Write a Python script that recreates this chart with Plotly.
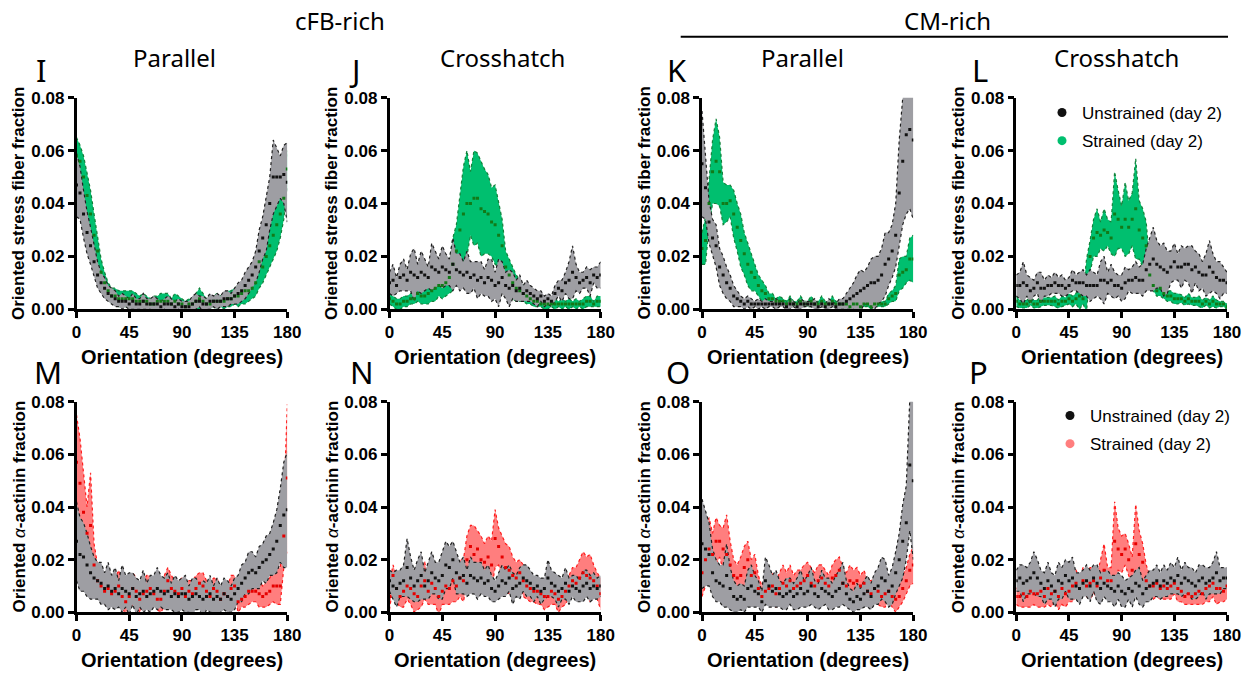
import numpy as np
import plotly.graph_objects as go

# Orientation bins (degrees)
ANGLES = list(range(0, 181, 3))
MILLI = 1000.0  # values below are in thousandths of the fraction

# ---------- I : cFB-rich, Parallel, stress fibers ----------
I_unstr_mean = [47, 44, 36, 29, 24, 18, 13, 10, 8, 6,
                5, 4, 3, 3, 3, 2, 3, 2, 2, 3,
                2, 2, 2, 2, 1, 2, 2, 2, 1, 2,
                1, 1, 1, 2, 3, 3, 2, 2, 3, 3,
                3, 3, 4, 4, 4, 5, 6, 7, 9, 11,
                13, 16, 22, 27, 32, 40, 50, 50, 50, 51,
                48]
I_unstr_sd = [12, 10, 9, 8, 7, 6, 5, 4, 4, 3,
              3, 3, 2, 3, 2, 2, 3, 2, 2, 3,
              2, 2, 3, 2, 2, 2, 3, 2, 2, 2,
              2, 2, 2, 3, 3, 2, 3, 2, 3, 2,
              3, 2, 3, 3, 2, 3, 4, 4, 5, 5,
              5, 6, 8, 8, 10, 10, 14, 11, 8, 11,
              15]
I_str_mean = [58, 56, 50, 43, 36, 28, 22, 14, 10, 7,
              5, 5, 4, 4, 4, 4, 4, 3, 3, 3,
              3, 2, 2, 3, 3, 3, 3, 2, 3, 2,
              2, 1, 2, 2, 3, 4, 3, 2, 2, 3,
              3, 3, 3, 4, 4, 5, 5, 6, 7, 7,
              8, 10, 18, 16, 20, 24, 28, 32, 36, 42,
              53]
I_str_sd = [7, 6, 8, 8, 9, 8, 6, 5, 4, 3,
            3, 3, 3, 3, 3, 3, 3, 3, 2, 3,
            2, 2, 3, 2, 3, 3, 3, 2, 3, 3,
            2, 2, 2, 2, 3, 4, 3, 2, 2, 2,
            3, 2, 3, 3, 3, 3, 4, 4, 5, 4,
            4, 5, 10, 6, 7, 8, 9, 10, 9, 8,
            7]

# ---------- J : cFB-rich, Crosshatch, stress fibers ----------
J_unstr_mean = [10, 11, 9, 12, 13, 11, 14, 13, 12, 14,
                13, 12, 16, 15, 14, 16, 15, 14, 17, 15,
                14, 13, 14, 12, 13, 11, 12, 10, 12, 11,
                9, 10, 12, 9, 8, 9, 7, 8, 6, 7,
                6, 5, 4, 5, 3, 4, 3, 6, 8, 7,
                10, 11, 14, 12, 10, 11, 12, 10, 13, 12,
                13]
J_unstr_sd = [4, 6, 3, 5, 6, 4, 7, 10, 5, 8,
              6, 4, 9, 7, 5, 8, 6, 5, 10, 6,
              7, 5, 8, 6, 5, 7, 6, 5, 7, 8,
              5, 9, 6, 5, 7, 5, 4, 5, 3, 4,
              3, 3, 3, 2, 2, 2, 2, 3, 3, 4,
              4, 7, 10, 5, 4, 3, 4, 5, 3, 4,
              5]
J_str_mean = [4, 3, 2, 2, 3, 3, 4, 4, 6, 5,
              5, 6, 7, 8, 9, 9, 10, 12, 17, 22,
              30, 36, 40, 40, 42, 42, 38, 37, 36, 33,
              32, 28, 24, 16, 13, 10, 8, 7, 6, 5,
              4, 3, 3, 2, 2, 2, 2, 2, 2, 2,
              2, 2, 2, 2, 2, 2, 3, 3, 2, 3,
              3]
J_str_sd = [2, 2, 2, 2, 2, 2, 2, 2, 3, 3,
            3, 4, 4, 5, 4, 5, 5, 6, 10, 10,
            12, 18, 20, 12, 18, 17, 18, 16, 15, 13,
            15, 12, 10, 6, 6, 6, 5, 4, 3, 3,
            2, 2, 2, 1, 2, 2, 1, 2, 1, 2,
            1, 2, 1, 2, 1, 2, 2, 2, 1, 2,
            2]

# ---------- K : CM-rich, Parallel, stress fibers ----------
K_unstr_mean = [55, 46, 33, 27, 24, 16, 13, 10, 8, 5,
                4, 3, 2, 3, 2, 2, 2, 2, 2, 2,
                2, 2, 2, 2, 1, 2, 2, 1, 2, 2,
                2, 2, 2, 1, 2, 1, 2, 2, 1, 2,
                2, 3, 4, 5, 6, 7, 8, 9, 10, 10,
                11, 13, 17, 19, 22, 28, 44, 56, 66, 68,
                64]
K_unstr_sd = [20, 12, 8, 7, 8, 7, 7, 6, 5, 4,
              3, 2, 2, 2, 2, 1, 2, 1, 2, 1,
              1, 2, 1, 1, 1, 2, 1, 1, 2, 1,
              1, 1, 2, 1, 1, 1, 2, 1, 1, 2,
              2, 3, 4, 5, 7, 8, 6, 7, 9, 10,
              9, 10, 12, 10, 10, 12, 20, 24, 30, 30,
              30]
K_str_mean = [23, 26, 40, 52, 56, 52, 40, 40, 41, 36,
              31, 26, 21, 17, 14, 12, 9, 7, 6, 4,
              4, 3, 3, 3, 2, 3, 2, 2, 3, 2,
              2, 3, 2, 2, 3, 2, 2, 3, 2, 2,
              2, 2, 1, 2, 2, 1, 2, 2, 1, 2,
              2, 2, 2, 4, 5, 6, 13, 14, 15, 19,
              19]
K_str_sd = [6, 9, 9, 12, 16, 13, 8, 7, 6, 9,
            9, 10, 8, 8, 7, 5, 4, 4, 3, 2,
            2, 1, 2, 1, 1, 2, 1, 1, 2, 1,
            1, 2, 1, 1, 2, 1, 1, 2, 1, 1,
            1, 1, 1, 1, 1, 1, 1, 1, 1, 1,
            1, 1, 1, 2, 2, 3, 6, 6, 5, 8,
            9]

# ---------- L : CM-rich, Crosshatch, stress fibers ----------
L_unstr_mean = [9, 9, 10, 9, 7, 8, 10, 8, 8, 9,
                9, 10, 9, 9, 8, 9, 11, 10, 10, 10,
                9, 9, 9, 9, 11, 11, 10, 11, 9, 9,
                8, 10, 11, 11, 12, 11, 11, 15, 17, 19,
                17, 16, 15, 14, 16, 18, 16, 16, 17, 17,
                15, 16, 14, 13, 13, 16, 14, 12, 11, 11,
                10]
L_unstr_sd = [4, 5, 8, 4, 5, 3, 4, 6, 3, 4,
              3, 4, 3, 4, 3, 3, 4, 3, 4, 5,
              4, 6, 5, 4, 7, 9, 4, 6, 5, 4,
              5, 6, 4, 5, 6, 5, 6, 8, 10, 12,
              9, 8, 10, 8, 6, 7, 5, 8, 6, 7,
              9, 6, 7, 5, 8, 10, 7, 6, 7, 5,
              4]
L_str_mean = [3, 2, 2, 2, 3, 2, 2, 3, 3, 3,
              3, 3, 2, 3, 3, 4, 3, 4, 5, 4,
              9, 20, 27, 29, 28, 30, 29, 27, 36, 34,
              31, 34, 31, 34, 38, 30, 27, 24, 13, 9,
              7, 8, 6, 5, 5, 4, 4, 4, 3, 4,
              3, 3, 3, 2, 3, 2, 3, 2, 2, 2,
              1]
L_str_sd = [2, 1.5, 1.5, 1.5, 1.5, 1.5, 1.5, 2, 1.5, 1.5,
            1.5, 2, 1.5, 2, 1.5, 2, 2, 2, 5, 2,
            10, 6, 7, 9, 5, 8, 5, 6, 16, 11,
            8, 14, 10, 10, 19, 11, 11, 9, 4, 2,
            2, 3, 2, 2, 2, 2, 2, 1.5, 1.5, 2,
            1.5, 1.5, 2, 1.5, 1.5, 1.5, 2, 1.5, 1, 1,
            1]

# ---------- M : cFB-rich, Parallel, alpha-actinin ----------
M_unstr_mean = [27, 22, 21, 18, 15, 13, 12, 11, 9, 10,
                8, 9, 7, 9, 8, 7, 9, 6, 7, 8,
                6, 7, 8, 9, 8, 7, 8, 6, 7, 6,
                7, 7, 5, 6, 7, 6, 5, 6, 7, 5,
                6, 5, 7, 6, 5, 7, 9, 11, 13, 15,
                16, 15, 17, 19, 20, 22, 24, 27, 33, 37,
                39]
M_unstr_sd = [15, 14, 13, 12, 10, 8, 7, 8, 6, 9,
              6, 8, 5, 9, 6, 8, 6, 7, 5, 8,
              5, 7, 6, 8, 6, 6, 7, 5, 7, 6,
              6, 7, 5, 7, 6, 5, 7, 5, 7, 5,
              7, 5, 6, 6, 5, 6, 5, 7, 6, 8,
              7, 6, 8, 7, 9, 8, 10, 12, 14, 20,
              22]
M_str_mean = [57, 49, 38, 30, 33, 18, 12, 10, 8, 9,
              7, 8, 10, 6, 4, 6, 9, 8, 5, 7,
              8, 9, 7, 5, 5, 8, 12, 9, 8, 7,
              9, 6, 8, 7, 9, 11, 10, 8, 6, 9,
              8, 5, 7, 6, 9, 10, 4, 5, 6, 8,
              8, 8, 7, 6, 7, 8, 10, 10, 10, 29,
              51]
M_str_sd = [18, 17, 15, 10, 20, 8, 6, 5, 5, 5,
            4, 5, 6, 5, 4, 5, 6, 5, 5, 5,
            6, 5, 4, 4, 5, 6, 5, 5, 4, 5,
            4, 5, 4, 5, 5, 4, 5, 4, 5, 4,
            5, 4, 5, 4, 5, 4, 4, 3, 4, 5,
            4, 4, 5, 4, 5, 5, 6, 7, 7, 12,
            28]

# ---------- N : cFB-rich, Crosshatch, alpha-actinin ----------
N_unstr_mean = [12, 10, 9, 11, 12, 17, 13, 10, 12, 14,
                10, 12, 15, 13, 12, 14, 18, 17, 20, 15,
                13, 14, 11, 14, 13, 12, 13, 11, 12, 9,
                8, 10, 12, 11, 13, 9, 10, 11, 13, 12,
                11, 9, 10, 8, 9, 13, 11, 10, 8, 9,
                11, 8, 10, 9, 8, 10, 11, 9, 10, 9,
                10]
N_unstr_sd = [4, 5, 7, 5, 6, 11, 8, 6, 8, 9,
              5, 7, 8, 6, 7, 9, 9, 8, 7, 8,
              6, 7, 5, 7, 6, 7, 6, 5, 6, 5,
              4, 5, 6, 5, 5, 6, 4, 6, 5, 6,
              5, 5, 4, 5, 4, 7, 5, 5, 6, 4,
              6, 5, 4, 5, 4, 6, 5, 5, 5, 4,
              4]
N_str_mean = [6, 14, 9, 6, 8, 10, 9, 7, 6, 10,
              12, 8, 11, 9, 6, 8, 10, 9, 12, 10,
              13, 12, 20, 25, 22, 24, 20, 19, 21, 18,
              28, 25, 21, 17, 16, 14, 13, 15, 12, 10,
              9, 8, 8, 7, 6, 6, 8, 7, 5, 6,
              8, 10, 12, 11, 13, 15, 14, 13, 12, 10,
              7]
N_str_sd = [5, 4, 5, 4, 6, 5, 6, 7, 5, 8,
            7, 5, 8, 6, 7, 5, 7, 6, 8, 6,
            7, 8, 9, 8, 11, 7, 9, 7, 8, 9,
            11, 7, 8, 9, 9, 7, 6, 5, 6, 5,
            5, 4, 5, 4, 5, 4, 5, 4, 5, 4,
            5, 4, 5, 6, 7, 8, 7, 9, 6, 5,
            6]

# ---------- O : CM-rich, Parallel, alpha-actinin ----------
O_unstr_mean = [26, 24, 22, 15, 12, 11, 10, 14, 9, 6,
                5, 6, 5, 9, 10, 8, 7, 4, 12, 10,
                8, 9, 7, 6, 7, 8, 6, 7, 9, 7,
                8, 10, 7, 6, 9, 8, 7, 6, 8, 9,
                11, 7, 5, 4, 6, 5, 7, 8, 6, 9,
                10, 13, 12, 8, 10, 15, 20, 27, 34, 56,
                50]
O_unstr_sd = [17, 14, 12, 9, 8, 7, 8, 12, 8, 6,
              5, 5, 5, 7, 8, 6, 5, 4, 9, 8,
              6, 7, 5, 5, 6, 5, 5, 6, 7, 5,
              6, 7, 5, 5, 7, 5, 6, 5, 6, 7,
              8, 5, 4, 4, 5, 4, 5, 6, 5, 6,
              7, 8, 8, 6, 7, 8, 10, 14, 14, 25,
              30]
O_str_mean = [15, 20, 24, 22, 27, 27, 24, 22, 18, 14,
              13, 14, 17, 20, 14, 15, 9, 6, 8, 9,
              10, 7, 9, 11, 10, 12, 9, 10, 11, 12,
              14, 11, 10, 12, 13, 11, 10, 13, 14, 16,
              11, 10, 12, 11, 12, 10, 11, 8, 7, 9,
              8, 6, 7, 8, 6, 5, 6, 9, 12, 16,
              18]
O_str_sd = [9, 10, 12, 8, 9, 6, 8, 15, 9, 6,
            5, 7, 8, 7, 6, 7, 5, 4, 5, 6,
            5, 5, 6, 7, 5, 6, 5, 6, 5, 6,
            5, 6, 5, 6, 5, 5, 4, 5, 6, 5,
            6, 5, 6, 5, 5, 4, 5, 4, 5, 4,
            5, 4, 5, 4, 4, 5, 4, 5, 5, 6,
            7]

# ---------- P : CM-rich, Crosshatch, alpha-actinin ----------
P_unstr_mean = [12, 13, 11, 12, 13, 15, 13, 11, 9, 12,
                10, 8, 12, 11, 14, 12, 13, 10, 9, 11,
                12, 10, 13, 11, 9, 11, 10, 9, 8, 10,
                8, 7, 9, 8, 11, 10, 7, 9, 10, 11,
                12, 10, 12, 11, 13, 12, 14, 11, 13, 12,
                11, 10, 12, 13, 11, 12, 13, 15, 12, 13,
                13]
P_unstr_sd = [4, 5, 7, 5, 6, 8, 7, 5, 6, 7,
              5, 6, 7, 6, 6, 7, 8, 5, 6, 5,
              6, 6, 5, 7, 6, 5, 6, 5, 6, 5,
              6, 5, 4, 6, 5, 7, 5, 5, 6, 5,
              6, 5, 6, 5, 6, 5, 7, 5, 6, 5,
              6, 5, 6, 5, 6, 5, 6, 8, 5, 4,
              4]
P_str_mean = [6, 6, 7, 6, 8, 7, 7, 8, 6, 9,
              7, 8, 6, 9, 7, 8, 10, 11, 9, 12,
              10, 11, 12, 10, 13, 16, 12, 12, 27, 24,
              22, 24, 20, 16, 26, 22, 19, 12, 10, 10,
              11, 9, 10, 9, 10, 11, 9, 8, 6, 7,
              6, 7, 8, 7, 9, 10, 11, 9, 9, 8,
              10]
P_str_sd = [3, 4, 5, 4, 6, 4, 5, 6, 4, 6,
            5, 4, 5, 6, 5, 4, 6, 5, 4, 5,
            4, 6, 5, 4, 7, 10, 5, 5, 15, 8,
            7, 6, 6, 5, 15, 9, 7, 6, 4, 5,
            5, 4, 5, 4, 5, 4, 5, 4, 3, 4,
            3, 4, 5, 4, 5, 6, 5, 6, 5, 4,
            5]

X_TICKS = [0, 45, 90, 135, 180]
Y_TICKS = [0.0, 0.02, 0.04, 0.06, 0.08]
COL_TITLES = ["Parallel", "Crosshatch", "Parallel", "Crosshatch"]
GROUP_TITLES = ["cFB-rich", "CM-rich"]
LETTERS = ["I", "J", "K", "L", "M", "N", "O", "P"]
Y_TITLES = ["Oriented stress fiber fraction",
            "Oriented <span style='font-weight:normal'><i>\u03b1</i></span>-actinin fraction"]
X_TITLE = "Orientation (degrees)"
SERIES_NAMES = ["Unstrained (day 2)", "Strained (day 2)"]

DATA = [
    (I_unstr_mean, I_unstr_sd, I_str_mean, I_str_sd),
    (J_unstr_mean, J_unstr_sd, J_str_mean, J_str_sd),
    (K_unstr_mean, K_unstr_sd, K_str_mean, K_str_sd),
    (L_unstr_mean, L_unstr_sd, L_str_mean, L_str_sd),
    (M_unstr_mean, M_unstr_sd, M_str_mean, M_str_sd),
    (N_unstr_mean, N_unstr_sd, N_str_mean, N_str_sd),
    (O_unstr_mean, O_unstr_sd, O_str_mean, O_str_sd),
    (P_unstr_mean, P_unstr_sd, P_str_mean, P_str_sd),
]
for d in DATA:
    for arr in d:
        assert len(arr) == len(ANGLES), len(arr)

# ---------- layout geometry (pixels) ----------
W, H = 1250, 676
COL_PX = [(76.5, 287.3), (389.5, 600.7), (702.0, 913.3), (1016.3, 1227.0)]
ROW_PX = [(97.7, 309.3), (401.7, 612.3)]


def fx(px):
    return px / W


def fy(py):
    return 1 - py / H


GRAY = dict(fill="#9e9ea3", edge="#202020", marker="#111111")
GREEN = dict(fill="#00bf6f", edge="#13813a", marker="#127a18")
RED = dict(fill="#ff7e7e", edge="#ff1c1c", marker="#e60000")

BOLD = dict(family="Liberation Sans, Arial, sans-serif", size=17, color="black", weight="bold")
HUMAN = "Noto Sans, Open Sans, sans-serif"

fig = go.Figure()


def add_band(ax, mean, sd, st):
    m = np.array(mean, dtype=float) / MILLI
    s = np.array(sd, dtype=float) / MILLI
    lo, hi = m - s, m + s
    edge = dict(color=st["edge"], width=1.2, dash="dot")
    fig.add_trace(go.Scatter(x=ANGLES, y=lo, mode="lines", line=edge,
                             xaxis="x" + ax, yaxis="y" + ax,
                             showlegend=False, hoverinfo="skip"))
    fig.add_trace(go.Scatter(x=ANGLES, y=hi, mode="lines", line=edge,
                             fill="tonexty", fillcolor=st["fill"],
                             xaxis="x" + ax, yaxis="y" + ax,
                             showlegend=False, hoverinfo="skip"))


def add_points(ax, mean, st):
    m = np.array(mean, dtype=float) / MILLI
    fig.add_trace(go.Scatter(x=ANGLES, y=m, mode="markers",
                             marker=dict(symbol="square", size=3, color=st["marker"],
                                         line=dict(width=0)),
                             xaxis="x" + ax, yaxis="y" + ax, showlegend=False))


layout_axes = {}
annotations = []
for k, (um, us, sm, ss) in enumerate(DATA):
    row, col = divmod(k, 4)
    ax = "" if k == 0 else str(k + 1)
    st = GREEN if row == 0 else RED
    add_band(ax, sm, ss, st)
    add_band(ax, um, us, GRAY)
    add_points(ax, sm, st)
    add_points(ax, um, GRAY)

    x0, x1 = COL_PX[col]
    y0, y1 = ROW_PX[row]
    common = dict(showline=True, linecolor="black", linewidth=2.5, ticks="outside",
                  ticklen=6, tickwidth=2.5, tickcolor="black", showgrid=False,
                  zeroline=False, tickfont=BOLD, fixedrange=True, automargin=False)
    layout_axes["xaxis" + ax] = dict(domain=[fx(x0), fx(x1)], anchor="y" + ax,
                                     range=[0, 180], tickvals=X_TICKS, **common)
    layout_axes["yaxis" + ax] = dict(domain=[fy(y1), fy(y0)], anchor="x" + ax,
                                     range=[0, 0.08], tickvals=Y_TICKS, tickformat=".2f",
                                     **common)
    # axis titles
    annotations.append(dict(text=Y_TITLES[row], x=fx(x0 - 58), y=fy((y0 + y1) / 2),
                            xref="paper", yref="paper", showarrow=False, textangle=-90,
                            xanchor="center", yanchor="middle", font=BOLD))
    annotations.append(dict(text=X_TITLE, x=fx((x0 + x1) / 2), y=fy(y1 + 48),
                            xref="paper", yref="paper", showarrow=False,
                            xanchor="center", yanchor="middle",
                            font=dict(BOLD, size=20)))

# panel letters
LETTER_POS = [(41.7, 70), (355, 70), (676.7, 70), (980, 70),
              (48, 372), (361.7, 372), (678, 372), (978, 372)]
for t, (px, py) in zip(LETTERS, LETTER_POS):
    annotations.append(dict(text=t, x=fx(px), y=fy(py), xref="paper", yref="paper",
                            showarrow=False, xanchor="center", yanchor="middle",
                            font=dict(family=HUMAN, size=31, color="black")))
# column titles
for t, px in zip(COL_TITLES, [174, 502.7, 802.7, 1116.7]):
    annotations.append(dict(text=t, x=fx(px), y=fy(58), xref="paper", yref="paper",
                            showarrow=False, xanchor="center", yanchor="middle",
                            font=dict(family=HUMAN, size=24, color="black")))
# group titles
for t, px in zip(GROUP_TITLES, [340, 947]):
    annotations.append(dict(text=t, x=fx(px), y=fy(20), xref="paper", yref="paper",
                            showarrow=False, xanchor="center", yanchor="middle",
                            font=dict(family=HUMAN, size=24, color="black")))

# legend entries
for lg, ax, st in [("legend", "4", GREEN), ("legend2", "8", RED)]:
    fig.add_trace(go.Scatter(x=[None], y=[None], mode="markers", name=SERIES_NAMES[0],
                             marker=dict(symbol="circle", size=9, color="#111111"),
                             xaxis="x" + ax, yaxis="y" + ax, legend=lg,
                             legendgroup=lg + "u", showlegend=True))
    fig.add_trace(go.Scatter(x=[None], y=[None], mode="markers", name=SERIES_NAMES[1],
                             marker=dict(symbol="circle", size=9, color=st["fill"]),
                             xaxis="x" + ax, yaxis="y" + ax, legend=lg,
                             legendgroup=lg + "s", showlegend=True))

LEG_FONT = dict(family="Liberation Sans, Arial, sans-serif", size=17, color="black")
fig.update_layout(
    width=W, height=H, margin=dict(l=0, r=0, t=0, b=0, autoexpand=False),
    paper_bgcolor="white", plot_bgcolor="white",
    annotations=annotations,
    shapes=[dict(type="line", xref="paper", yref="paper", x0=fx(680.7), x1=fx(1228),
                 y0=fy(36.7), y1=fy(36.7), line=dict(color="black", width=2))],
    legend=dict(x=fx(1042), y=fy(95), xanchor="left", yanchor="top",
                bgcolor="rgba(0,0,0,0)", font=LEG_FONT, tracegroupgap=3,
                traceorder="grouped"),
    legend2=dict(x=fx(1050), y=fy(398), xanchor="left", yanchor="top",
                 bgcolor="rgba(0,0,0,0)", font=LEG_FONT, tracegroupgap=3,
                 traceorder="grouped"),
    **layout_axes,
)

fig.write_html("out.html")
